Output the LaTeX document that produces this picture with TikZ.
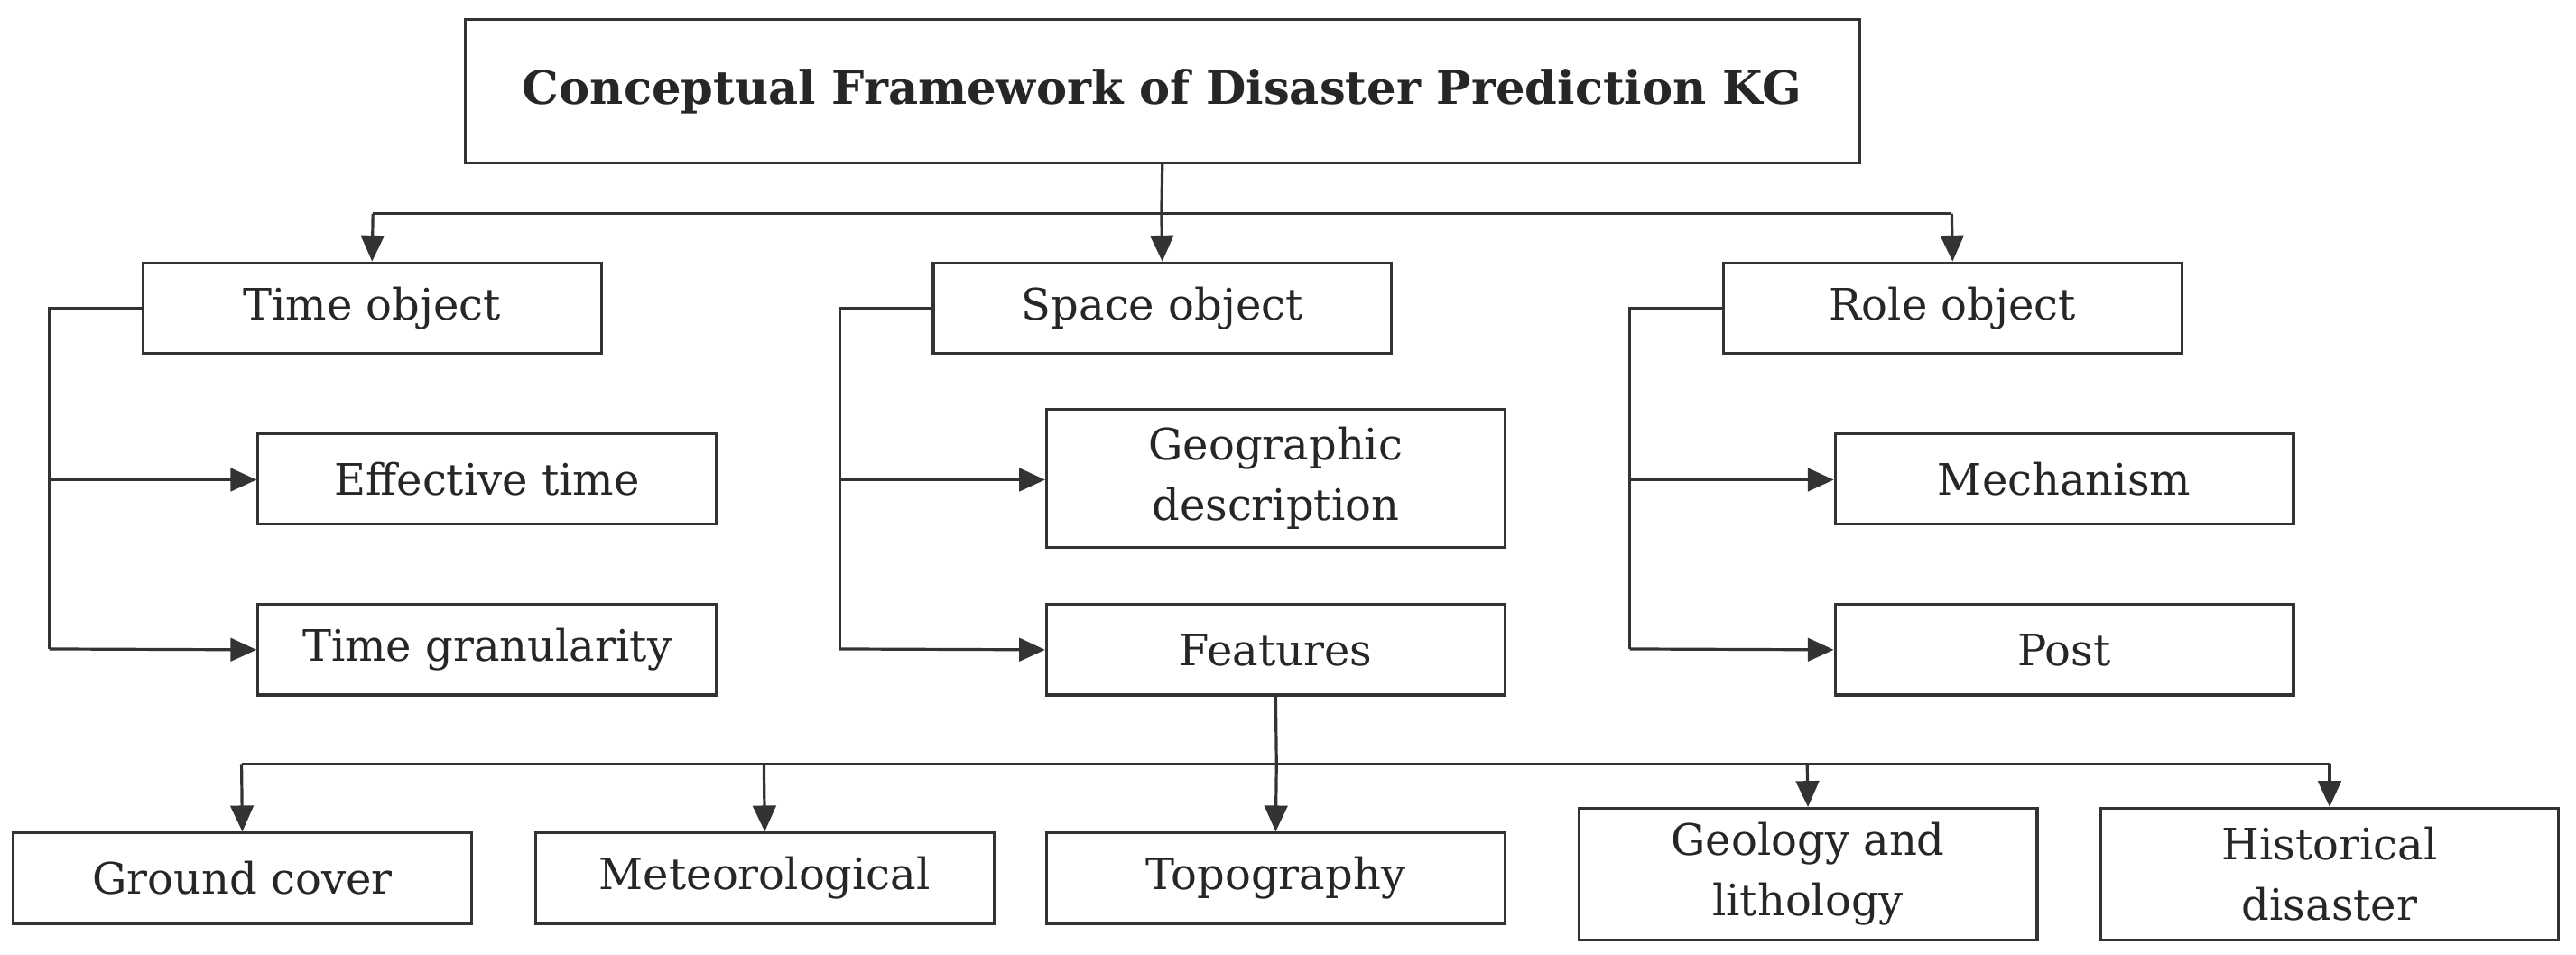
\documentclass[tikz,border=0pt]{standalone}
\usepackage{fontspec}
\setmainfont{DejaVu Serif}
\usetikzlibrary{arrows.meta}
\definecolor{ln}{HTML}{333333}
\begin{document}
\begin{tikzpicture}[x=0.02cm,y=-0.02cm,
  box/.style={draw=ln,line width=1pt,minimum width=5.58cm,minimum height=1.1cm,inner sep=0pt,font=\fontsize{15}{21}\selectfont,align=center,text=black!85},
  tall/.style={box,minimum height=1.6cm},
  con/.style={draw=ln,line width=1pt},
  arr/.style={con,-{Triangle[length=9pt,width=8pt]}}]
\useasboundingbox (0,0) rectangle (1568,581);
\node[box,minimum width=16.98cm,minimum height=1.74cm,font=\bfseries\fontsize{16}{19}\selectfont] (title) at (707.5,55.5) {Conceptual Framework of Disaster Prediction KG};
\node[box] (time) at (226.5,187.5) {Time object};
\node[box] (space) at (707.5,187.5) {Space object};
\node[box] (role) at (1188.5,187.5) {Role object};
\node[box] (eff) at (296.5,291.5) {Effective time};
\node[box] (gran) at (296.5,395.5) {Time granularity};
\node[tall,minimum height=1.68cm] (geo) at (776.5,291) {Geographic\\description};
\node[box] (feat) at (776.5,395.5) {Features};
\node[box] (mech) at (1256.5,291.5) {Mechanism};
\node[box] (post) at (1256.5,395.5) {Post};
\node[box] (ground) at (147.5,534.5) {Ground cover};
\node[box] (met) at (465.5,534.5) {Meteorological};
\node[box] (topo) at (776.5,534.5) {Topography};
\node[tall] (geol) at (1100.5,532) {Geology and\\lithology};
\node[tall] (hist) at (1418,532) {Historical\\disaster};
\coordinate (j) at (707,130);
\draw[con] (title.south) -- (j);
\draw[con] (227,130) -- (1188,130);
\draw[arr] (j) -- (space.north);
\draw[arr] (227,130) -- (time.north);
\draw[arr] (1188,130) -- (role.north);
\foreach \p/\a/\b/\x in {time/eff/gran/30,space/geo/feat/511,role/mech/post/992}{
  \draw[con] (\p.west) -| (\x,395);
  \draw[arr] (\x,292) -- (\a.west |- \x,292);
  \draw[arr] (\x,395) -- (\b.west);
}
\coordinate (f) at (777,465);
\draw[con] (feat.south) -- (f);
\draw[con] (147,465) -- (1418,465);
\draw[arr] (147,465) -- (ground.north);
\draw[arr] (465,465) -- (met.north);
\draw[arr] (f) -- (topo.north);
\draw[arr] (1100,465) -- (geol.north);
\draw[arr] (1418,465) -- (hist.north);
\end{tikzpicture}
\end{document}
